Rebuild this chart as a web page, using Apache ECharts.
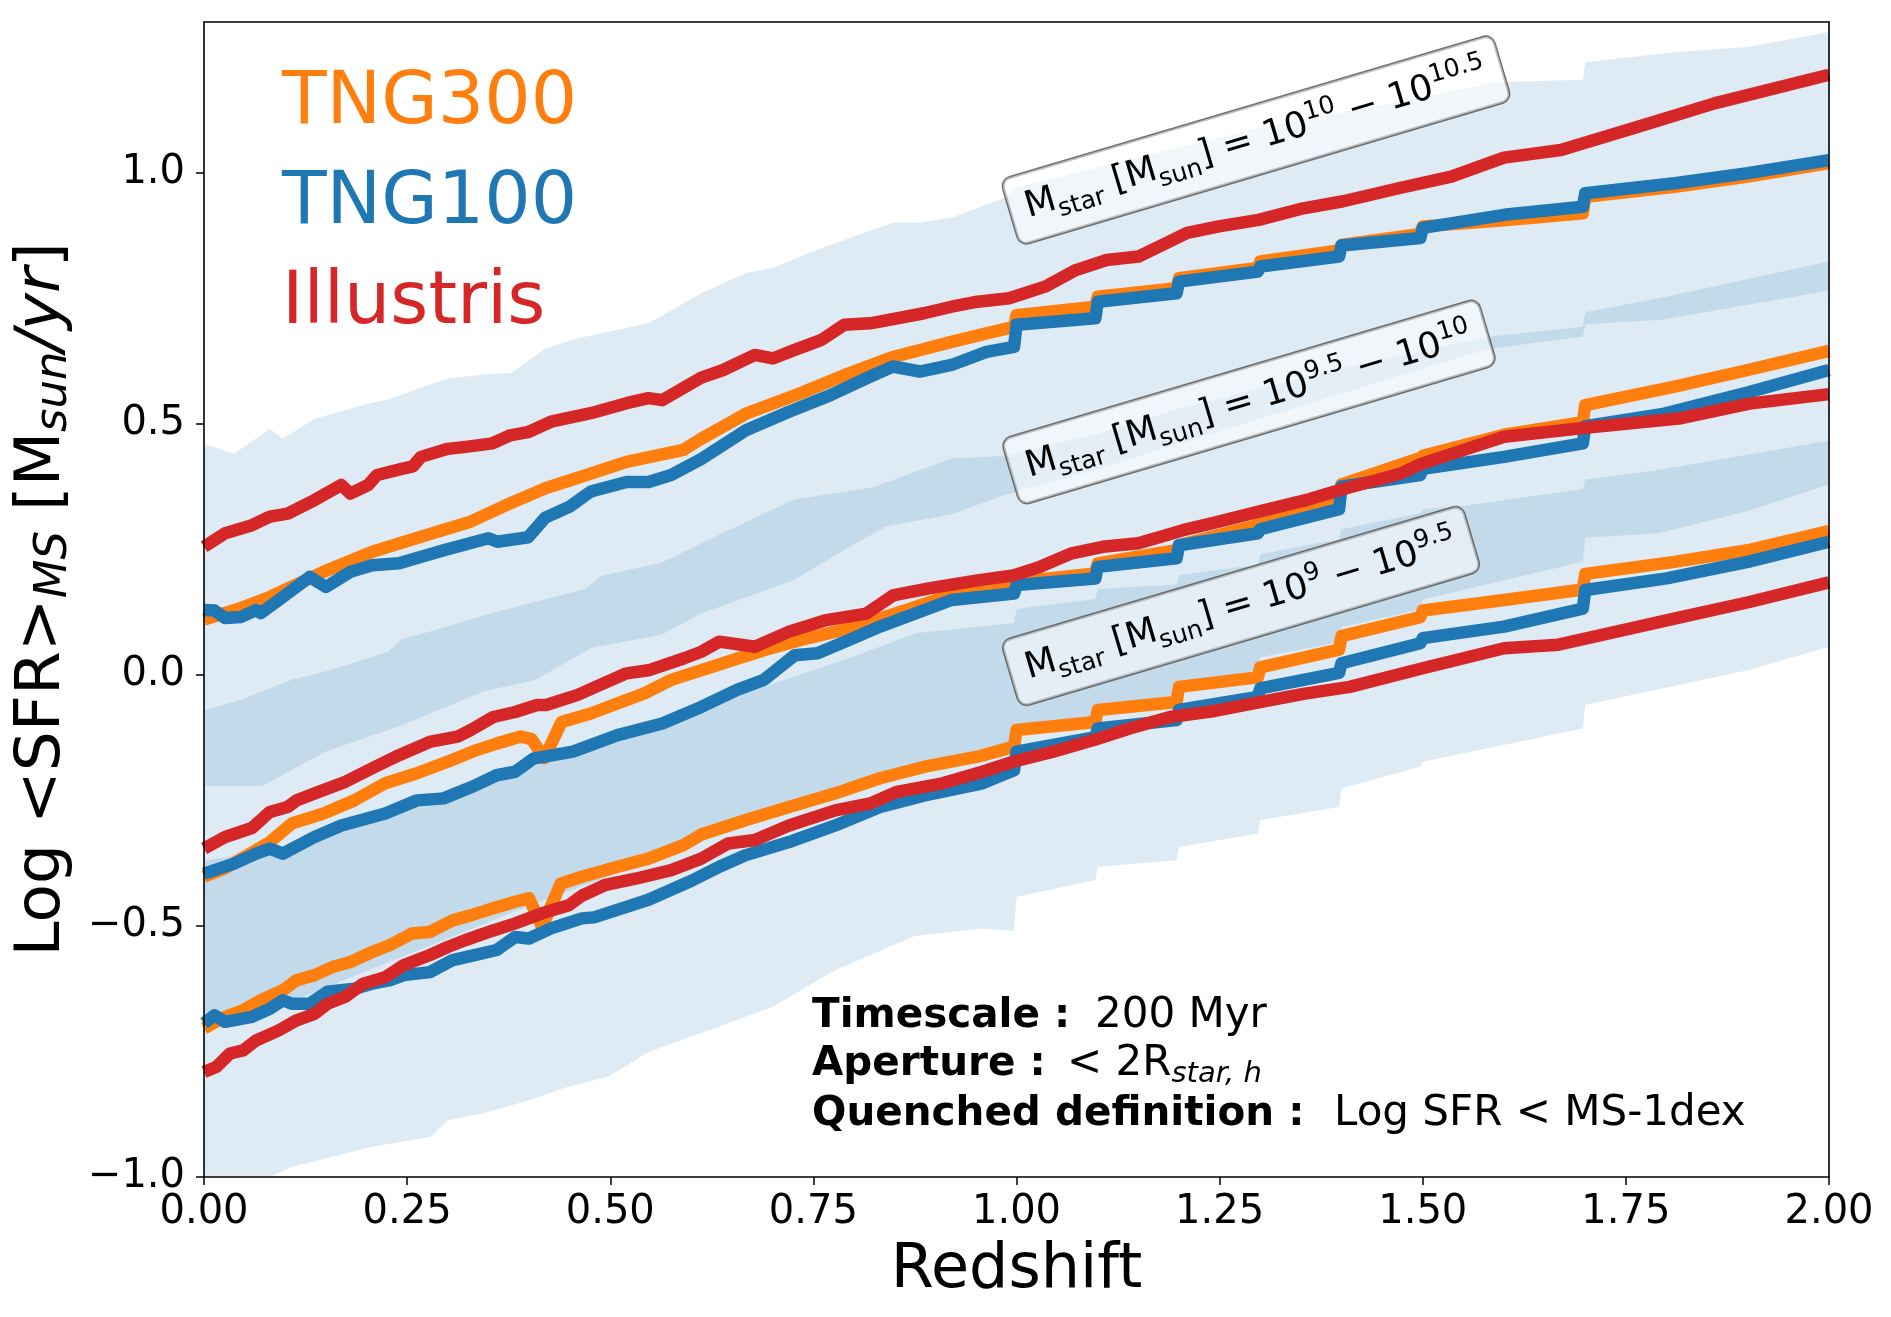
<!DOCTYPE html>
<html lang="en">
<head>
  <meta charset="UTF-8">
  <title>Log SFR MS vs Redshift</title>
  <script src="https://cdn.jsdelivr.net/npm/echarts@6/dist/echarts.min.js"></script>
  <style>
    html, body { margin: 0; padding: 0; background: #fff; }
    #main { width: 1891px; height: 1317px; }
  </style>
</head>
<body>
<div id="main"></div>
<script>
  const yTickValues = [-1.0, -0.5, 0.0, 0.5, 1.0];

  // Mstar 10^10 - 10^10.5
  const tng300High = [[0,0.11],[0.04,0.13],[0.081,0.155],[0.147,0.205],[0.207,0.245],[0.273,0.278],[0.328,0.305],[0.372,0.338],[0.421,0.372],[0.465,0.395],[0.52,0.424],[0.59,0.448],[0.612,0.47],[0.667,0.52],[0.733,0.56],[0.793,0.6],[0.848,0.633],[0.92,0.663],[0.963,0.68],[0.997,0.693],[1.0,0.716],[1.097,0.733],[1.1,0.753],[1.197,0.77],[1.2,0.79],[1.297,0.81],[1.3,0.823],[1.397,0.845],[1.4,0.856],[1.497,0.878],[1.5,0.893],[1.6,0.905],[1.697,0.919],[1.7,0.952],[1.81,0.972],[1.9,0.992],[2.0,1.019]];
  const tng100High = [[0,0.129],[0.013,0.128],[0.026,0.113],[0.045,0.115],[0.064,0.129],[0.07,0.123],[0.092,0.149],[0.13,0.195],[0.15,0.175],[0.18,0.205],[0.207,0.218],[0.24,0.222],[0.295,0.248],[0.35,0.272],[0.361,0.265],[0.399,0.274],[0.42,0.313],[0.45,0.335],[0.476,0.365],[0.52,0.384],[0.547,0.384],[0.575,0.398],[0.612,0.43],[0.667,0.487],[0.72,0.524],[0.771,0.557],[0.82,0.594],[0.848,0.614],[0.881,0.604],[0.92,0.617],[0.963,0.643],[0.997,0.653],[1.0,0.697],[1.097,0.71],[1.1,0.743],[1.197,0.76],[1.2,0.783],[1.297,0.803],[1.3,0.813],[1.397,0.833],[1.4,0.855],[1.497,0.87],[1.5,0.89],[1.6,0.916],[1.697,0.932],[1.7,0.959],[1.81,0.979],[1.9,0.999],[2.0,1.025]];
  const illustrisHigh = [[0,0.255],[0.026,0.282],[0.059,0.298],[0.081,0.315],[0.103,0.321],[0.136,0.348],[0.169,0.378],[0.18,0.361],[0.202,0.378],[0.213,0.398],[0.246,0.411],[0.257,0.415],[0.267,0.434],[0.3,0.45],[0.322,0.454],[0.355,0.461],[0.377,0.477],[0.4,0.484],[0.427,0.504],[0.476,0.521],[0.52,0.541],[0.547,0.551],[0.564,0.547],[0.612,0.592],[0.639,0.607],[0.678,0.637],[0.7,0.63],[0.727,0.647],[0.76,0.667],[0.788,0.697],[0.82,0.7],[0.886,0.72],[0.92,0.733],[0.952,0.743],[0.991,0.75],[1.035,0.773],[1.073,0.806],[1.111,0.826],[1.15,0.833],[1.21,0.88],[1.249,0.893],[1.298,0.906],[1.353,0.929],[1.402,0.943],[1.473,0.97],[1.535,0.992],[1.6,1.03],[1.67,1.045],[1.766,1.092],[1.859,1.138],[2.0,1.195]];

  // Mstar 10^9.5 - 10^10
  const tng300Mid = [[0,-0.402],[0.026,-0.385],[0.081,-0.333],[0.108,-0.296],[0.147,-0.276],[0.185,-0.25],[0.223,-0.216],[0.262,-0.196],[0.3,-0.173],[0.33,-0.153],[0.36,-0.137],[0.39,-0.123],[0.403,-0.128],[0.419,-0.166],[0.44,-0.094],[0.476,-0.077],[0.509,-0.057],[0.542,-0.037],[0.575,-0.01],[0.612,0.009],[0.65,0.029],[0.689,0.049],[0.733,0.069],[0.777,0.086],[0.82,0.106],[0.87,0.132],[0.92,0.159],[0.997,0.175],[1.0,0.185],[1.097,0.202],[1.1,0.222],[1.197,0.248],[1.2,0.258],[1.297,0.298],[1.3,0.308],[1.397,0.342],[1.4,0.379],[1.497,0.432],[1.5,0.436],[1.6,0.478],[1.697,0.503],[1.7,0.537],[1.81,0.574],[1.9,0.607],[2.0,0.645]];
  const tng100Mid = [[0,-0.396],[0.037,-0.376],[0.064,-0.356],[0.081,-0.346],[0.097,-0.356],[0.136,-0.323],[0.169,-0.3],[0.223,-0.276],[0.262,-0.25],[0.295,-0.246],[0.33,-0.223],[0.36,-0.2],[0.383,-0.193],[0.405,-0.167],[0.454,-0.153],[0.509,-0.12],[0.564,-0.097],[0.612,-0.064],[0.656,-0.03],[0.689,-0.01],[0.727,0.039],[0.755,0.043],[0.793,0.069],[0.832,0.096],[0.87,0.119],[0.92,0.149],[0.997,0.162],[1.0,0.179],[1.097,0.192],[1.1,0.215],[1.197,0.232],[1.2,0.258],[1.297,0.282],[1.3,0.29],[1.397,0.33],[1.4,0.375],[1.497,0.398],[1.5,0.41],[1.6,0.434],[1.697,0.461],[1.7,0.495],[1.794,0.519],[1.902,0.563],[2.0,0.607]];
  const illustrisMid = [[0,-0.346],[0.026,-0.323],[0.059,-0.305],[0.081,-0.273],[0.103,-0.263],[0.114,-0.25],[0.141,-0.233],[0.174,-0.213],[0.207,-0.186],[0.24,-0.16],[0.279,-0.133],[0.312,-0.123],[0.328,-0.11],[0.356,-0.084],[0.383,-0.074],[0.41,-0.06],[0.421,-0.06],[0.46,-0.04],[0.482,-0.024],[0.52,0.003],[0.547,0.009],[0.591,0.033],[0.612,0.046],[0.634,0.066],[0.678,0.056],[0.72,0.086],[0.766,0.109],[0.815,0.122],[0.848,0.158],[0.892,0.172],[0.952,0.188],[0.996,0.198],[1.029,0.215],[1.068,0.242],[1.106,0.255],[1.15,0.262],[1.205,0.288],[1.249,0.305],[1.298,0.325],[1.361,0.35],[1.398,0.368],[1.473,0.401],[1.498,0.42],[1.6,0.474],[1.7,0.492],[1.818,0.511],[1.902,0.54],[2.0,0.559]];

  // Mstar 10^9 - 10^9.5
  const tng300Low = [[0,-0.704],[0.026,-0.681],[0.048,-0.668],[0.07,-0.648],[0.097,-0.628],[0.114,-0.608],[0.136,-0.598],[0.158,-0.582],[0.18,-0.572],[0.207,-0.552],[0.229,-0.538],[0.256,-0.515],[0.278,-0.512],[0.306,-0.489],[0.328,-0.479],[0.356,-0.465],[0.383,-0.452],[0.4,-0.445],[0.416,-0.502],[0.439,-0.416],[0.465,-0.402],[0.509,-0.382],[0.547,-0.366],[0.59,-0.339],[0.612,-0.318],[0.667,-0.289],[0.72,-0.263],[0.777,-0.236],[0.832,-0.206],[0.887,-0.183],[0.952,-0.163],[0.997,-0.143],[1.0,-0.11],[1.097,-0.094],[1.1,-0.07],[1.197,-0.054],[1.2,-0.024],[1.297,-0.005],[1.3,0.015],[1.397,0.05],[1.4,0.077],[1.497,0.115],[1.5,0.128],[1.6,0.149],[1.697,0.17],[1.7,0.201],[1.81,0.225],[1.9,0.248],[2.0,0.286]];
  const tng100Low = [[0,-0.694],[0.013,-0.678],[0.026,-0.691],[0.059,-0.681],[0.081,-0.665],[0.097,-0.648],[0.108,-0.655],[0.13,-0.655],[0.152,-0.631],[0.185,-0.625],[0.207,-0.615],[0.229,-0.608],[0.246,-0.598],[0.278,-0.592],[0.306,-0.568],[0.333,-0.558],[0.36,-0.548],[0.383,-0.522],[0.4,-0.525],[0.427,-0.505],[0.465,-0.485],[0.48,-0.483],[0.52,-0.462],[0.547,-0.448],[0.6,-0.41],[0.637,-0.38],[0.667,-0.359],[0.72,-0.333],[0.777,-0.3],[0.832,-0.263],[0.887,-0.24],[0.958,-0.216],[0.997,-0.19],[1.0,-0.153],[1.097,-0.124],[1.1,-0.107],[1.197,-0.09],[1.2,-0.07],[1.297,-0.044],[1.3,-0.027],[1.397,0.004],[1.4,0.023],[1.497,0.063],[1.5,0.073],[1.6,0.096],[1.697,0.132],[1.7,0.169],[1.8,0.192],[1.9,0.225],[2.0,0.265]];
  const illustrisLow = [[0,-0.791],[0.015,-0.781],[0.032,-0.754],[0.048,-0.748],[0.064,-0.728],[0.092,-0.708],[0.114,-0.688],[0.136,-0.675],[0.152,-0.655],[0.174,-0.641],[0.196,-0.615],[0.223,-0.602],[0.246,-0.578],[0.278,-0.558],[0.3,-0.542],[0.322,-0.528],[0.356,-0.509],[0.383,-0.495],[0.416,-0.475],[0.449,-0.459],[0.465,-0.44],[0.493,-0.419],[0.531,-0.406],[0.575,-0.389],[0.612,-0.366],[0.645,-0.336],[0.678,-0.329],[0.72,-0.3],[0.777,-0.27],[0.82,-0.256],[0.853,-0.233],[0.909,-0.216],[0.958,-0.193],[0.996,-0.173],[1.045,-0.153],[1.095,-0.13],[1.139,-0.107],[1.189,-0.084],[1.244,-0.072],[1.298,-0.055],[1.353,-0.038],[1.41,-0.024],[1.5,0.013],[1.6,0.053],[1.667,0.06],[1.818,0.115],[1.902,0.145],[2.0,0.184]];

  // main-sequence scatter bands (upper / lower edges)
  const bandHighUpper = [[0,0.46],[0.037,0.44],[0.081,0.49],[0.097,0.47],[0.136,0.51],[0.202,0.54],[0.229,0.55],[0.3,0.59],[0.355,0.6],[0.377,0.6],[0.42,0.65],[0.46,0.67],[0.547,0.7],[0.612,0.76],[0.667,0.8],[0.7,0.81],[0.76,0.85],[0.848,0.9],[0.88,0.9],[0.92,0.91],[0.985,0.95],[1.0,0.97],[1.1,1.01],[1.2,1.05],[1.3,1.09],[1.4,1.12],[1.5,1.15],[1.59,1.18],[1.697,1.185],[1.7,1.22],[1.81,1.24],[1.9,1.25],[2.0,1.28]];
  const bandHighLower = [[0,-0.222],[0.071,-0.222],[0.149,-0.153],[0.243,-0.101],[0.345,-0.032],[0.407,-0.011],[0.477,0.054],[0.563,0.08],[0.612,0.122],[0.726,0.189],[0.797,0.257],[0.84,0.296],[0.92,0.32],[0.985,0.358],[1.1,0.41],[1.2,0.46],[1.3,0.51],[1.4,0.56],[1.5,0.61],[1.58,0.649],[1.697,0.673],[1.7,0.698],[1.794,0.707],[2.0,0.765]];
  const bandMidUpper = [[0,-0.071],[0.047,-0.049],[0.108,-0.01],[0.153,0.008],[0.227,0.046],[0.243,0.071],[0.284,0.089],[0.346,0.119],[0.407,0.145],[0.469,0.171],[0.489,0.197],[0.563,0.223],[0.612,0.262],[0.726,0.349],[0.823,0.373],[0.92,0.431],[0.985,0.436],[1.1,0.48],[1.2,0.53],[1.3,0.57],[1.4,0.61],[1.5,0.645],[1.58,0.673],[1.697,0.693],[1.7,0.722],[1.794,0.751],[2.0,0.823]];
  const bandMidLower = [[0,-0.7],[0.1,-0.655],[0.2,-0.59],[0.3,-0.525],[0.4,-0.46],[0.5,-0.4],[0.612,-0.325],[0.7,-0.275],[0.8,-0.225],[0.9,-0.185],[0.997,-0.15],[1.0,-0.115],[1.097,-0.095],[1.1,-0.065],[1.197,-0.045],[1.2,-0.015],[1.297,0.005],[1.3,0.035],[1.397,0.065],[1.4,0.095],[1.497,0.13],[1.5,0.15],[1.697,0.225],[1.7,0.273],[1.79,0.282],[1.9,0.326],[2.0,0.379]];
  const bandLowUpper = [[0,-0.37],[0.1,-0.345],[0.17,-0.31],[0.243,-0.275],[0.3,-0.24],[0.354,-0.205],[0.45,-0.16],[0.55,-0.11],[0.612,-0.065],[0.726,-0.004],[0.797,0.035],[0.876,0.083],[0.997,0.103],[1.0,0.131],[1.097,0.151],[1.1,0.171],[1.197,0.18],[1.2,0.199],[1.297,0.219],[1.3,0.24],[1.397,0.27],[1.4,0.29],[1.497,0.322],[1.5,0.33],[1.55,0.336],[1.697,0.37],[1.7,0.389],[1.79,0.408],[2.0,0.466]];
  const bandLowLower = [[0,-1.12],[0.04,-1.05],[0.081,-1.0],[0.108,-0.98],[0.207,-0.94],[0.279,-0.92],[0.3,-0.887],[0.344,-0.873],[0.4,-0.847],[0.443,-0.823],[0.498,-0.8],[0.547,-0.751],[0.612,-0.713],[0.7,-0.661],[0.777,-0.588],[0.875,-0.52],[0.958,-0.505],[0.997,-0.51],[1.0,-0.442],[1.097,-0.409],[1.1,-0.382],[1.197,-0.369],[1.2,-0.343],[1.297,-0.316],[1.3,-0.289],[1.397,-0.263],[1.4,-0.226],[1.497,-0.183],[1.5,-0.173],[1.697,-0.107],[1.7,-0.06],[1.9,0.009],[2.0,0.056]];

  const C_TNG300 = '#ff7f0e';
  const C_TNG100 = '#1f77b4';
  const C_ILL = '#d62728';
  const FONT = 'DejaVu Sans';

  const bands = [
    { upper: bandHighUpper, lower: bandHighLower },
    { upper: bandMidUpper, lower: bandMidLower },
    { upper: bandLowUpper, lower: bandLowLower }
  ];

  function lineSeries(data, color) {
    return {
      type: 'line',
      data: data,
      showSymbol: false,
      symbol: 'none',
      silent: true,
      clip: true,
      lineStyle: { color: color, width: 12.5, join: 'round', cap: 'butt' },
      z: 3
    };
  }

  const chart = echarts.init(document.getElementById('main'));

  const labelRich = {
    s: { fontSize: 25, fontFamily: FONT, verticalAlign: 'bottom' },
    p: { fontSize: 25, fontFamily: FONT, verticalAlign: 'top' }
  };
  function massLabel(text, x, y) {
    return {
      type: 'text',
      x: x, y: y,
      rotation: 16.5 * Math.PI / 180,
      z: 50,
      silent: true,
      style: {
        text: text,
        rich: labelRich,
        fontSize: 36,
        fontFamily: FONT,
        fill: '#000',
        lineHeight: 48,
        align: 'center',
        verticalAlign: 'middle',
        backgroundColor: 'rgba(255,255,255,0.55)',
        borderColor: 'rgba(80,80,80,0.8)',
        borderWidth: 1.5,
        borderRadius: 9,
        padding: [10, 16]
      }
    };
  }
  function plainText(text, x, y, opts) {
    return {
      type: 'text', x: x, y: y, z: 50, silent: true,
      style: Object.assign({
        text: text, fontFamily: FONT, fill: '#000',
        align: 'left', verticalAlign: 'middle'
      }, opts)
    };
  }

  const option = {
    animation: false,
    backgroundColor: '#fff',
    grid: { left: 202, right: 62, top: 22, bottom: 140, containLabel: false },
    xAxis: [{
      type: 'value', min: 0, max: 2, interval: 0.25,
      name: 'Redshift', nameLocation: 'middle', nameGap: 63,
      nameTextStyle: { fontSize: 62, fontFamily: FONT, color: '#000' },
      axisLine: { show: true, onZero: false, lineStyle: { color: '#000', width: 1.6 } },
      axisTick: { show: true, inside: false, length: 8, lineStyle: { color: '#000', width: 1.5 } },
      axisLabel: { fontSize: 40, fontFamily: FONT, color: '#000', margin: 16,
        formatter: v => v.toFixed(2) },
      splitLine: { show: false },
      z: 10
    }, {
      type: 'value', min: 0, max: 2, position: 'top',
      axisLine: { show: true, onZero: false, lineStyle: { color: '#000', width: 1.6 } },
      axisTick: { show: false }, axisLabel: { show: false }, splitLine: { show: false },
      z: 10
    }],
    yAxis: [{
      type: 'value', min: -1, max: 1.3,
      name: 'Log <SFR>{s|MS} [M{s|sun}{i|/yr}]',
      nameLocation: 'middle', nameGap: 126, nameRotate: 90,
      nameTextStyle: {
        fontSize: 63, fontFamily: FONT, color: '#000', lineHeight: 69,
        rich: {
          s: { fontSize: 45, fontFamily: FONT, fontStyle: 'italic', verticalAlign: 'bottom', color: '#000' },
          i: { fontSize: 63, fontFamily: FONT, fontStyle: 'italic', color: '#000' }
        }
      },
      axisLine: { show: true, onZero: false, lineStyle: { color: '#000', width: 1.6 } },
      axisTick: { show: true, inside: false, length: 8, customValues: yTickValues,
        lineStyle: { color: '#000', width: 1.5 } },
      axisLabel: { fontSize: 40, fontFamily: FONT, color: '#000', margin: 19,
        customValues: yTickValues,
        formatter: v => v.toFixed(1).replace('-', '\u2212') },
      splitLine: { show: false },
      z: 10
    }, {
      type: 'value', min: -1, max: 1.3, position: 'right',
      axisLine: { show: true, onZero: false, lineStyle: { color: '#000', width: 1.6 } },
      axisTick: { show: false }, axisLabel: { show: false }, splitLine: { show: false },
      z: 10
    }],
    series: [
      {
        type: 'custom',
        coordinateSystem: 'cartesian2d',
        data: [[0, 0], [1, 0], [2, 0]],
        silent: true,
        z: 1,
        renderItem: function (params, api) {
          const band = bands[params.dataIndex];
          const cs = params.coordSys;
          const top = cs.y, bottom = cs.y + cs.height;
          const pts = band.upper.map(p => api.coord(p))
            .concat(band.lower.slice().reverse().map(p => api.coord(p)))
            .map(p => [p[0], Math.min(bottom, Math.max(top, p[1]))]);
          return {
            type: 'polygon',
            shape: { points: pts },
            style: { fill: 'rgba(31,119,180,0.15)' },
            silent: true
          };
        }
      },
      lineSeries(tng300High, C_TNG300),
      lineSeries(tng300Mid, C_TNG300),
      lineSeries(tng300Low, C_TNG300),
      lineSeries(tng100High, C_TNG100),
      lineSeries(tng100Mid, C_TNG100),
      lineSeries(tng100Low, C_TNG100),
      lineSeries(illustrisHigh, C_ILL),
      lineSeries(illustrisMid, C_ILL),
      lineSeries(illustrisLow, C_ILL)
    ],
    graphic: [
      plainText('TNG300', 282, 104, { fontSize: 73, fill: C_TNG300 }),
      plainText('TNG100', 282, 204, { fontSize: 73, fill: C_TNG100 }),
      plainText('Illustris', 282, 304, { fontSize: 73, fill: C_ILL }),

      massLabel('M{s|star} [M{s|sun}] = 10{p|10} \u2212 10{p|10.5}', 1256, 140),
      massLabel('M{s|star} [M{s|sun}] = 10{p|9.5} \u2212 10{p|10}', 1249, 402),
      massLabel('M{s|star} [M{s|sun}] = 10{p|9} \u2212 10{p|9.5}', 1241, 606),

      plainText('Timescale :', 812, 1016, { fontSize: 40.5, fontWeight: 'bold' }),
      plainText('200 Myr', 1095, 1016, { fontSize: 42 }),
      plainText('Aperture :', 812, 1064, { fontSize: 40.5, fontWeight: 'bold' }),
      plainText('< 2R{s|star, h}', 1067, 1064, {
        fontSize: 42, lineHeight: 50,
        rich: { s: { fontSize: 29, fontFamily: FONT, fontStyle: 'italic', verticalAlign: 'bottom' } }
      }),
      plainText('Quenched definition :', 812, 1114, { fontSize: 40.5, fontWeight: 'bold' }),
      plainText('Log SFR < MS-1dex', 1334, 1114, { fontSize: 42 })
    ]
  };

  chart.setOption(option);
</script>
</body>
</html>
